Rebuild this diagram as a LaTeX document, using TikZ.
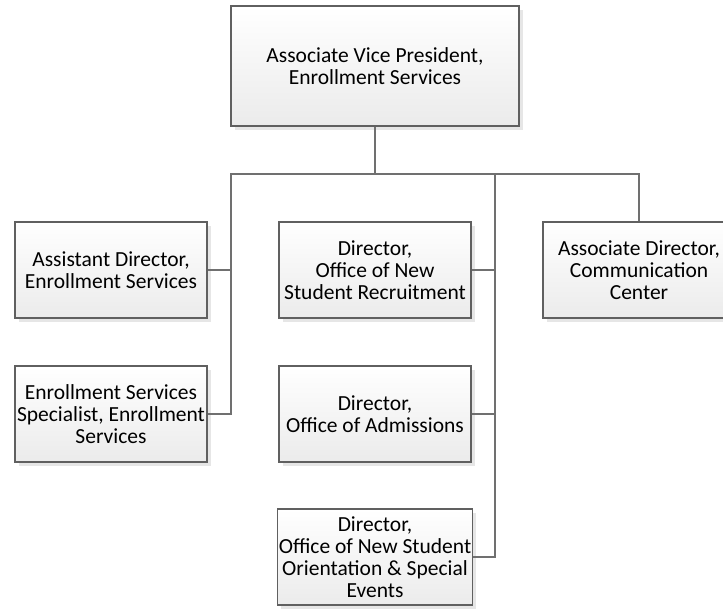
\documentclass[tikz,border=0pt]{standalone}
\usepackage{fontspec}
\setmainfont{Carlito}
\usetikzlibrary{shadows}
\definecolor{boxline}{HTML}{606060}
\definecolor{connline}{HTML}{707070}
\definecolor{boxbot}{HTML}{EBEBEB}
\definecolor{shadowc}{HTML}{E6E6E6}
\begin{document}
\begin{tikzpicture}[x=1pt,y=-1pt,
  orgbox/.style={draw=boxline, line width=1.1pt, top color=white, bottom color=boxbot,
    minimum width=192pt, minimum height=96pt, inner sep=1pt, align=center,
    font=\fontsize{21.5pt}{22pt}\selectfont,
    drop shadow={shadow xshift=3.5pt, shadow yshift=-3.5pt, fill=shadowc, opacity=1}},
  conn/.style={draw=connline, line width=1.4pt}]
\useasboundingbox (0,0) rectangle (723,608);
\node[orgbox, minimum width=288pt, minimum height=120pt] (top) at (375,66) {Associate Vice President,\\Enrollment Services};
\node[orgbox] (l1) at (111,270) {Assistant Director,\\Enrollment Services};
\node[orgbox] (l2) at (111,414) {Enrollment Services\\Specialist, Enrollment\\Services};
\node[orgbox] (m1) at (375,270) {Director,\\Office of New\\Student Recruitment};
\node[orgbox] (m2) at (375,414) {Director,\\Office of Admissions};
\node[orgbox] (m3) at (375,557) {Director,\\Office of New Student\\Orientation \& Special\\Events};
\node[orgbox] (r) at (639,270) {Associate Director,\\Communication\\Center};
\coordinate (lb) at (231,174);
\coordinate (rb) at (495,174);
\draw[conn] (top.south) -- (top.south |- lb);
\draw[conn] (l2.east) -| (lb) -| (r.north);
\draw[conn] (l1.east) -- (l1.east -| lb);
\draw[conn] (m3.east) -| (rb);
\draw[conn] (m1.east) -- (m1.east -| rb);
\draw[conn] (m2.east) -- (m2.east -| rb);
\end{tikzpicture}
\end{document}
